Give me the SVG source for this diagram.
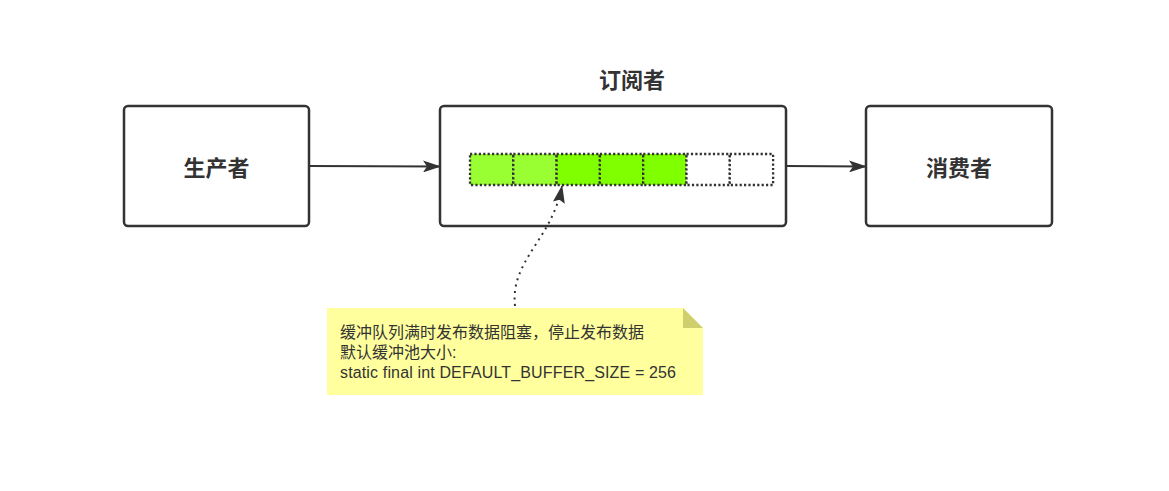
<svg xmlns="http://www.w3.org/2000/svg" width="1169" height="491" viewBox="0 0 1169 491">
<style>
.box{fill:#fff;stroke:#333;stroke-width:2.5}
.lbl{font-family:"Noto Sans CJK SC","Liberation Sans",sans-serif;font-weight:bold;font-size:22px;fill:#333;text-anchor:middle;dominant-baseline:central}
.cell{stroke:#333;stroke-width:2.3;stroke-dasharray:2.2 2.2}
.edge{fill:none;stroke:#333;stroke-width:2}
.note{font-family:"Liberation Sans","Noto Sans CJK SC",sans-serif;font-size:16px;fill:#333}
</style>
<defs>
<marker id="ah2" markerWidth="18" markerHeight="12" refX="17" refY="6" orient="auto" markerUnits="userSpaceOnUse" viewBox="0 0 18 12">
<path d="M0,0 L18,6 L0,12 L4,6 Z" fill="#333"/>
</marker>
<marker id="ah3" markerWidth="18" markerHeight="12" refX="17" refY="6" orient="auto" markerUnits="userSpaceOnUse" viewBox="0 0 18 12">
<path d="M0,0 L18,6 L0,12 L3,6 Z" fill="#333"/>
</marker>
</defs>
<g id="producer">
<rect class="box" x="124" y="106" width="185" height="120" rx="4"/>
<text class="lbl" x="216.5" y="166">生产者</text>
</g>
<g id="subscriber">
<rect class="box" x="440" y="106" width="346" height="120" rx="4"/>
<text class="lbl" x="632" y="78">订阅者</text>
<rect class="cell" x="470" y="154" width="43.3" height="31" fill="#99FF33"/>
<rect class="cell" x="513.3" y="154" width="43.3" height="31" fill="#99FF33"/>
<rect class="cell" x="556.6" y="154" width="43.3" height="31" fill="#80FF00"/>
<rect class="cell" x="599.9" y="154" width="43.3" height="31" fill="#80FF00"/>
<rect class="cell" x="643.2" y="154" width="43.3" height="31" fill="#80FF00"/>
<rect class="cell" x="686.5" y="154" width="43.3" height="31" fill="#fff"/>
<rect class="cell" x="729.8" y="154" width="43.3" height="31" fill="#fff"/>
</g>
<g id="consumer">
<rect class="box" x="866" y="106" width="186" height="120" rx="4"/>
<text class="lbl" x="959" y="166">消费者</text>
</g>
<g id="note">
<path d="M327,308 H683 L703,328 V395 H327 Z" fill="#FFFF9E"/>
<path d="M683,308 L703,328 H683 Z" fill="#CFCF6E"/>
<text class="note" x="340" y="338">缓冲队列满时发布数据阻塞，停止发布数据</text>
<text class="note" x="340" y="358">默认缓冲池大小:</text>
<text class="note" x="340" y="378" textLength="336" lengthAdjust="spacing">static final int DEFAULT_BUFFER_SIZE = 256</text>
</g>
<g id="connectors">
<path class="edge" d="M309,166 L440,166.5" marker-end="url(#ah2)"/>
<path class="edge" d="M786,166 L866,166.5" marker-end="url(#ah2)"/>
<path class="edge" d="M515,306 C510,260 552,240 562,186" stroke-width="2.3" stroke-dasharray="2 4.5" marker-end="url(#ah3)"/>
</g>
</svg>
